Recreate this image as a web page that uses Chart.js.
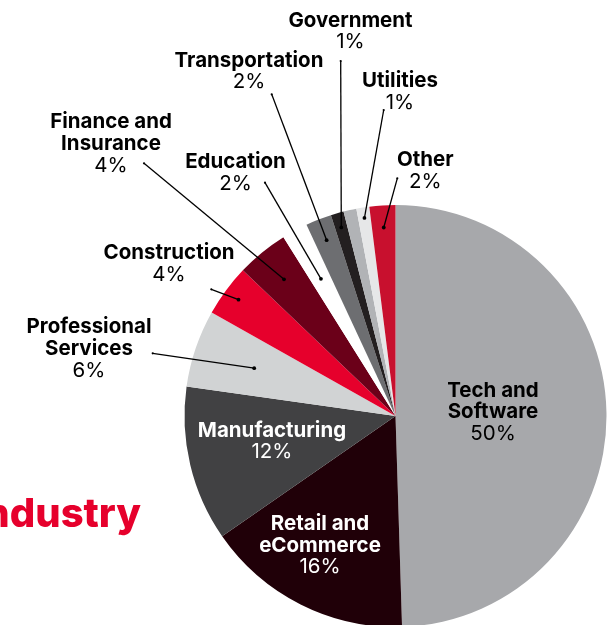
<!DOCTYPE html>
<html>
<head>
<meta charset="utf-8">
<title>Industry</title>
<script src="https://cdn.jsdelivr.net/npm/chart.js@4.4.0/dist/chart.umd.min.js"></script>
<style>
  html, body { margin: 0; padding: 0; background: #fff; overflow: hidden; }
  #wrap { position: relative; width: 609px; height: 625px; overflow: hidden; }
  canvas { display: block; }
</style>
</head>
<body>
<div id="wrap">
  <canvas id="industryChart" width="609" height="640"></canvas>
</div>
<script>
// share of respondents by industry, clockwise from 12 o'clock
const categories = [
  'Tech and\nSoftware',
  'Retail and\neCommerce',
  'Manufacturing',
  'Professional\nServices',
  'Construction',
  'Finance and\nInsurance',
  'Education',
  'Transportation',
  'Government',
  '',
  'Utilities',
  'Other',
];
const shares = [50, 16, 12, 6, 4, 4, 2, 2, 1, 1, 1, 2];
const sliceColors = [
  '#a7a8ab', '#200008', '#414143', '#d1d3d4', '#e6002c', '#6b0019',
  '#ffffff', '#6d6e71', '#231f20', '#b1b3b6', '#e6e7e8', '#c8102e',
];

// where each label sits; outside labels get a leader line to their slice
const LINE_H = 21.6;
const labelSpots = [
  { x: 493, y: 396.5, color: '#000' },
  { x: 320, y: 530, color: '#fff' },
  { x: 272, y: 436.7, color: '#fff' },
  { x: 89, y: 333.3, to: [152.7, 353.3], depth: 0.707 },
  { x: 169, y: 259, to: [211.3, 289.3], depth: 0.926 },
  { x: 111, y: 128.3, to: [144, 163.3], depth: 0.836 },
  { x: 235.5, y: 168.3, to: [265, 182.7], depth: 0.74 },
  { x: 249, y: 66.7, to: [271.7, 94.3], depth: 0.895 },
  { x: 350.5, y: 26.7, to: [340.7, 61], depth: 0.93 },
  null,
  { x: 400, y: 87.3, to: [383.7, 110], depth: 0.95 },
  { x: 425.3, y: 166, to: [397.3, 178.3], depth: 0.895 },
];

const pieLabels = {
  id: 'pieLabels',
  afterDatasetsDraw(chart) {
    const { ctx } = chart;
    const arcs = chart.getDatasetMeta(0).data;
    ctx.save();

    arcs.forEach((arc, i) => {
      const spot = labelSpots[i];
      if (!spot) return;
      const { x, y, startAngle, endAngle, outerRadius } =
        arc.getProps(['x', 'y', 'startAngle', 'endAngle', 'outerRadius'], true);

      if (spot.to) {
        const mid = (startAngle + endAngle) / 2;
        const px = x + Math.cos(mid) * outerRadius * spot.depth;
        const py = y + Math.sin(mid) * outerRadius * spot.depth;
        ctx.strokeStyle = '#000';
        ctx.fillStyle = '#000';
        ctx.lineWidth = 1.3;
        ctx.beginPath();
        ctx.moveTo(spot.to[0], spot.to[1]);
        ctx.lineTo(px, py);
        ctx.stroke();
        ctx.beginPath();
        ctx.arc(px, py, 1.9, 0, Math.PI * 2);
        ctx.fill();
        ctx.beginPath();
        ctx.arc(spot.to[0], spot.to[1], 1.1, 0, Math.PI * 2);
        ctx.fill();
      }

      const lines = categories[i].split('\n');
      ctx.fillStyle = spot.color || '#000';
      ctx.textAlign = 'center';
      ctx.textBaseline = 'alphabetic';
      ctx.font = '700 20.5px Inter';
      lines.forEach((line, k) => {
        ctx.fillText(line, spot.x, spot.y + k * LINE_H);
      });
      ctx.font = '400 20.5px Inter';
      ctx.fillText(shares[i] + '%', spot.x, spot.y + lines.length * LINE_H);
    });

    // section heading, running off the left edge
    ctx.fillStyle = '#e6002c';
    ctx.textAlign = 'right';
    ctx.font = '800 40px Inter';
    ctx.fillText('Industry', 141, 527);

    ctx.restore();
  },
};

const chartCtx = document.getElementById('industryChart').getContext('2d');
const industryChart = new Chart(chartCtx, {
  type: 'pie',
  data: {
    labels: categories,
    datasets: [{
      data: shares,
      backgroundColor: sliceColors,
      borderWidth: 0,
      hoverBorderWidth: 0,
      hoverOffset: 0,
      offset: 0,
    }],
  },
  options: {
    responsive: false,
    animation: false,
    events: [],
    rotation: 0,
    layout: {
      padding: { left: 184.5, top: 205, right: 2.5, bottom: 13 },
    },
    plugins: {
      legend: { display: false },
      tooltip: { enabled: false },
    },
  },
  plugins: [pieLabels],
});
</script>
</body>
</html>
